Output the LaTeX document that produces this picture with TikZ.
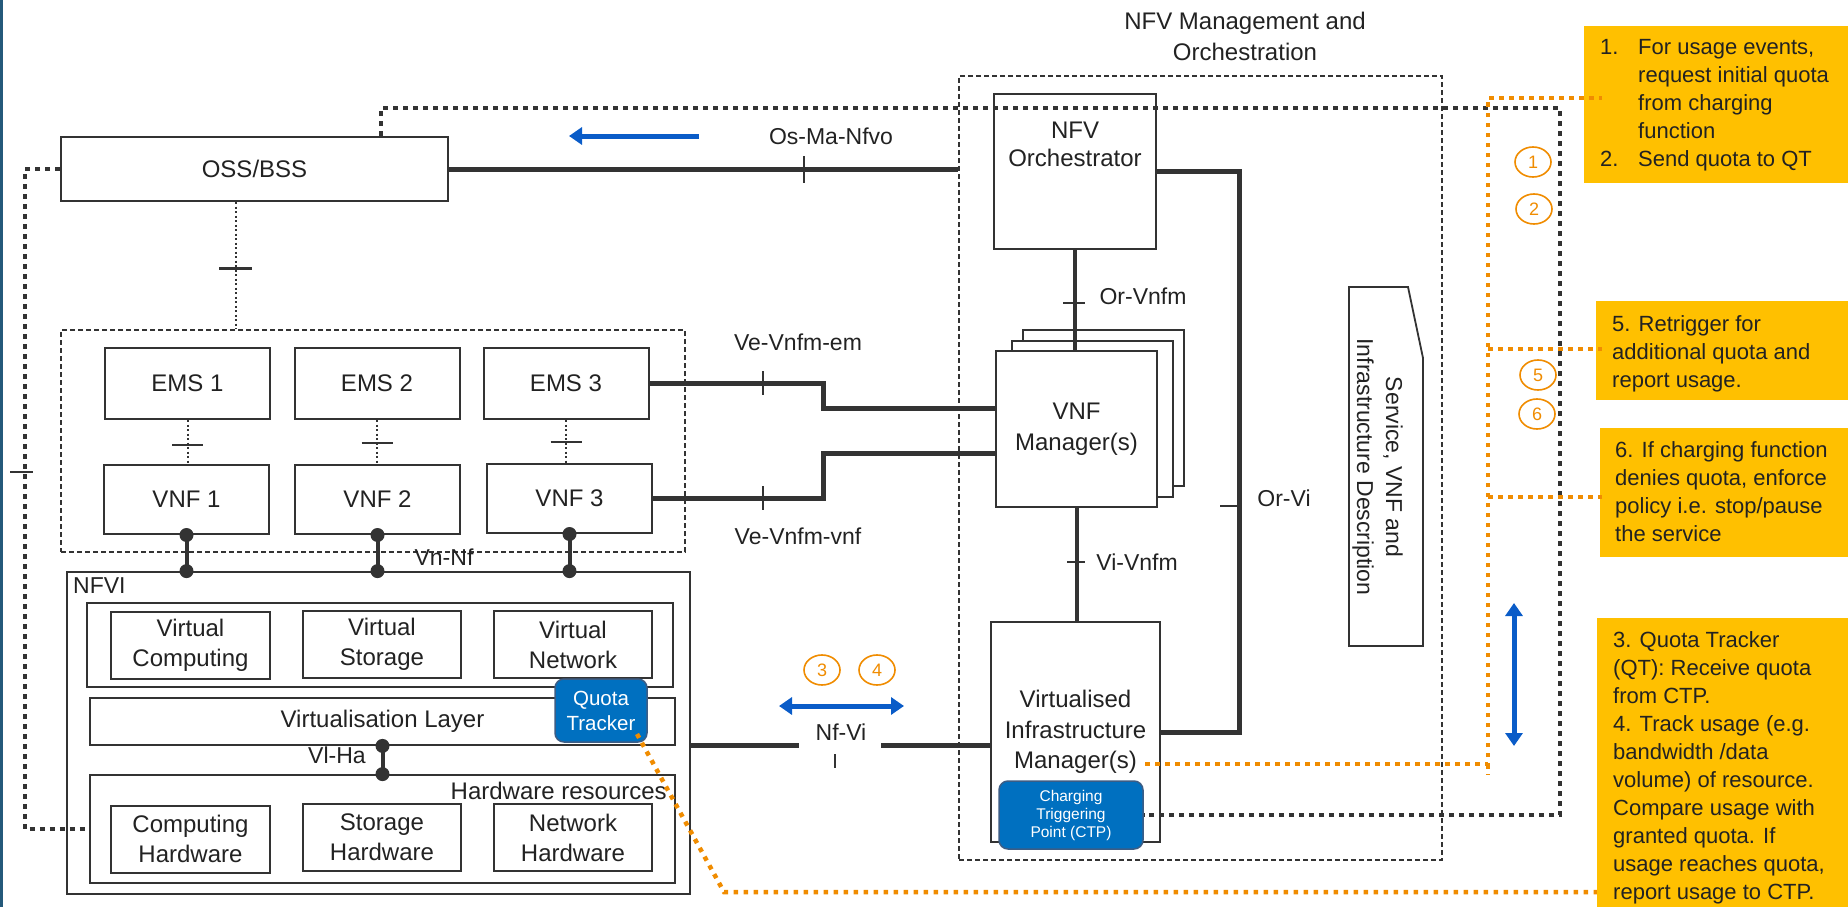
\documentclass[tikz,border=0pt]{standalone}
\usepackage{fontspec}
\setmainfont{Liberation Sans}
\usetikzlibrary{arrows.meta,shapes.geometric}

\definecolor{ink}{HTML}{333333}
\definecolor{txt}{HTML}{222222}
\definecolor{noteyellow}{HTML}{FFC000}
\definecolor{flow}{HTML}{F08C00}
\definecolor{unitblue}{HTML}{0070C0}
\definecolor{unitedge}{HTML}{3B5D86}
\definecolor{dirblue}{HTML}{0A5CC8}
\definecolor{sidebar}{HTML}{24597A}

\newcommand{\setfs}[2]{\fontsize{#1}{#2}\selectfont}

\begin{document}
\begin{tikzpicture}[x=1pt,y=-1pt,
  every node/.style={text=txt, inner sep=0pt},
  box/.style={draw=ink, line width=2pt, fill=white, align=center, font=\setfs{24}{30}},
  panel/.style={draw=ink, line width=1.8pt, fill=white},
  grpbox/.style={draw=ink, line width=1.3pt, dash pattern=on 5pt off 3pt},
  unit/.style={draw=unitedge, line width=1.5pt, fill=unitblue, rounded corners=9pt, text=white, align=center},
  lbl/.style={font=\setfs{23}{28}},
  heavy/.style={draw=ink, line width=5pt},
  link/.style={draw=ink, line width=4pt},
  tickmark/.style={draw=ink, line width=1.6pt},
  bartick/.style={draw=ink, line width=2.6pt},
  finedot/.style={draw=ink, line width=2pt, dash pattern=on 2pt off 2.5pt},
  blackdot/.style={draw=ink, line width=4.6pt, dash pattern=on 4.6pt off 5.4pt},
  flowdot/.style={draw=flow, line width=4.5pt, dash pattern=on 4.5pt off 5.5pt},
  dirarrow/.style={draw=dirblue, line width=5pt, -{Triangle[length=13pt,width=17pt]}},
  dirboth/.style={draw=dirblue, line width=5pt, {Triangle[length=13pt,width=17pt]}-{Triangle[length=13pt,width=17pt]}},
  stepno/.style={ellipse, draw=flow, line width=1.6pt, fill=white, minimum width=36pt, minimum height=30pt, text=flow, font=\setfs{18}{20}},
  note/.style={fill=noteyellow},
  notetext/.style={anchor=north west, font=\setfs{22}{28}, text=txt},
]
\useasboundingbox (0,0) rectangle (1848,907);
\fill[sidebar] (0,0) rectangle (2.5,907);

% ---------- group frames ----------
\node[grpbox, minimum width=483, minimum height=784] (mano) at (1200.5,468) {};
\node[align=center, font=\setfs{24}{31}] (manotitle) at (1245,36.5) {NFV Management and\\Orchestration};
\node[grpbox, minimum width=624, minimum height=222] (vnfgrp) at (373,441) {};

% ---------- OSS/BSS ----------
\node[box, minimum width=387, minimum height=64] (oss) at (254.5,169) {OSS/BSS};

% ---------- EMS and VNF ----------
\node[box, minimum width=165, minimum height=71] (ems1) at (187.5,383.5) {EMS 1};
\node[box, minimum width=165, minimum height=71] (ems2) at (377,383.5) {EMS 2};
\node[box, minimum width=165, minimum height=71] (ems3) at (566,383.5) {EMS 3};
\node[box, minimum width=165, minimum height=69] (vnf1) at (186.5,499.5) {VNF 1};
\node[box, minimum width=165, minimum height=69] (vnf2) at (377.5,499.5) {VNF 2};
\node[box, minimum width=165, minimum height=69] (vnf3) at (569.5,498.5) {VNF 3};

% ---------- NFVI ----------
\node[panel, minimum width=623, minimum height=322] (nfvi) at (378.5,733) {};
\node[lbl, anchor=west] (nfvilbl) at (73,586) {NFVI};
\node[panel, minimum width=586, minimum height=84] (vgrp) at (380,645) {};
\node[box, minimum width=159, minimum height=67] (vcomp) at (190.5,645.5) {Virtual\\Computing};
\node[box, minimum width=158, minimum height=67] (vstor) at (382,644.5) {Virtual\\Storage};
\node[box, minimum width=158, minimum height=67] (vnet) at (573,644.5) {Virtual\\Network};
\node[panel, minimum width=585, minimum height=47, font=\setfs{24}{30}] (vlayer) at (382.5,721.5) {Virtualisation Layer};
\node[panel, minimum width=585, minimum height=108] (hwres) at (382.5,829) {};
\node[font=\setfs{24}{30}, anchor=east] (hwlbl) at (667,791) {Hardware resources};
\node[box, minimum width=159, minimum height=67] (hcomp) at (190.5,839) {Computing\\Hardware};
\node[box, minimum width=158, minimum height=67] (hstor) at (382,837.5) {Storage\\Hardware};
\node[box, minimum width=158, minimum height=67] (hnet) at (573,837.5) {Network\\Hardware};
\node[unit, minimum width=92, minimum height=63, font=\setfs{20.5}{25}] (qt) at (601,710.5) {Quota\\Tracker};

% ---------- MANO blocks ----------
\node[box, minimum width=162, minimum height=155] (orch) at (1075,171.5) {};
\node[align=center, font=\setfs{24}{28}] (orchtxt) at (1075,144) {NFV\\Orchestrator};
\node[box, minimum width=161, minimum height=156] (vnfmc) at (1103.5,408) {};
\node[box, minimum width=161, minimum height=156] (vnfmb) at (1092,418.5) {};
\node[box, minimum width=161, minimum height=156, font=\setfs{24}{31}] (vnfm) at (1076.5,429) {VNF\\Manager(s)};
\node[box, minimum width=169, minimum height=220, font=\setfs{24}{30.5}] (vim) at (1075.5,732) {Virtualised\\Infrastructure\\Manager(s)};
\node[unit, minimum width=144, minimum height=68, font=\setfs{15.5}{18}] (ctp) at (1071,815) {Charging\\Triggering\\Point (CTP)};

% service, VNF and infrastructure description (folded sheet)
\draw[panel] (1349,287) -- (1408,287) -- (1423,358) -- (1423,646) -- (1349,646) -- cycle;
\node[rotate=-90, align=center, font=\setfs{23}{29}] (svcdesc) at (1377.5,467) {Service, VNF and\\Infrastructure Description};

% ---------- reference points ----------
\coordinate (orvi) at (1239,506);
\coordinate (jogem) at (823,408);
\coordinate (jogvnf) at (823,453);
\coordinate (nfa) at (799,745);
\coordinate (nfb) at (881,745);
\coordinate (ossdn) at (236,268);
\coordinate (leftrun) at (25,472);
\coordinate (topl) at (381,108);
\coordinate (topr) at (1560,108);
\coordinate (qtout) at (637,734);
\coordinate (qtbend) at (724,892);
\coordinate (vimout) at (1145,764);
\coordinate (bus) at (1488,764);
\coordinate (busy1) at (1488,98);
\coordinate (busy5) at (1488,349);
\coordinate (busy6) at (1488,497);
\coordinate (ma) at (699,136);
\coordinate (mb) at (569,136);
\coordinate (nva) at (779,706);
\coordinate (nvb) at (904,706);
\coordinate (upa) at (1514,746);
\coordinate (upb) at (1514,603);

% ---------- reference-point connectors ----------
\draw[heavy] (oss.east) -- (oss.east -| mano.west);
\draw[tickmark] (804,156) -- (804,183);
\node[lbl] (osmanfvo) at (831,136) {Os-Ma-Nfvo};
\draw[dirarrow] (ma) -- (mb);

\draw[heavy] (orch.east) -| (orvi) |- (vim.east);
\draw[tickmark, line width=2pt] (orvi) -- ++(-19,0);
\node[lbl] (orvilbl) at (1284,498) {Or-Vi};

\draw[link] (orch.south) -- (orch.south |- vnfm.north);
\draw[tickmark, line width=2pt] (1063,303) -- (1085,303);
\node[lbl] (orvnfm) at (1143,296) {Or-Vnfm};

\draw[link] (vnfm.south) -- (vnfm.south |- vim.north);
\draw[tickmark, line width=2pt] (1067,562) -- (1085,562);
\node[lbl] (vivnfm) at (1137,562) {Vi-Vnfm};

\draw[heavy] (ems3.east) -| (jogem) -- (jogem -| vnfm.west);
\draw[tickmark] (763,371) -- (763,395);
\node[lbl] (vevnfmem) at (798,342) {Ve-Vnfm-em};
\draw[heavy] (vnf3.east) -| (jogvnf) -- (jogvnf -| vnfm.west);
\draw[tickmark] (763,486) -- (763,510);
\node[lbl] (vevnfmvnf) at (798,536) {Ve-Vnfm-vnf};

\draw[heavy] (nfa -| nfvi.east) -- (nfa);
\draw[heavy] (nfb) -- (nfb -| vim.west);
\node[lbl] (nfvilbl2) at (841,732) {Nf-Vi};
\draw[tickmark] (835,754) -- (835,768);
\draw[dirboth] (nva) -- (nvb);
\node[stepno] (s3) at (822,670) {3};
\node[stepno] (s4) at (877,670) {4};

% EMS to VNF
\foreach \i/\y in {1/445,2/443,3/442} {
  \draw[finedot] (ems\i.south) -- (ems\i.south |- vnf\i.north);
  \draw[bartick] ([xshift=-15.5pt]ems\i.south |- 0,\y) -- ([xshift=15.5pt]ems\i.south |- 0,\y);
}
% VNF to NFVI (Vn-Nf)
\foreach \i in {1,2,3} {
  \draw[link] (vnf\i.south) -- (vnf\i.south |- nfvi.north);
  \fill[ink] (vnf\i.south) circle (7pt) (vnf\i.south |- nfvi.north) circle (7pt);
}
\node[lbl] (vnnf) at (444,557) {Vn-Nf};

% Virtualisation layer to hardware (Vl-Ha)
\draw[link] (vlayer.south) -- (vlayer.south |- hwres.north);
\fill[ink] (vlayer.south) circle (7pt) (vlayer.south |- hwres.north) circle (7pt);
\node[lbl] (vlha) at (337,755) {Vl-Ha};

% OSS/BSS to EMS/VNF group
\draw[finedot] (ossdn |- oss.south) -- (ossdn |- vnfgrp.north);
\draw[bartick, line width=3pt] (219,268) -- (252,268);

% OSS/BSS to NFVI
\draw[blackdot] (oss.west) -| (leftrun) |- (hwres.west);
\draw[tickmark] (10,472) -- (33,472);

% OSS/BSS to CTP
\draw[blackdot] (topl |- oss.north) -- (topl) -- (topr) |- (ctp.east);

% ---------- notes ----------
\node[note, minimum width=264, minimum height=157] (note1) at (1716,104.5) {};
\node[note, minimum width=252, minimum height=99] (note5) at (1722,350.5) {};
\node[note, minimum width=248, minimum height=129] (note6) at (1724,492.5) {};
\node[note, minimum width=251, minimum height=289] (note3) at (1722.5,762.5) {};

\node[notetext] (note1txt) at (1600,34.4) {\begin{tabular}{@{}p{38pt}@{}l@{}}
1. & For usage events,\\
 & request initial quota\\
 & from charging\\
 & function\\
2. & Send quota to QT
\end{tabular}};
\node[notetext] (note5txt) at (1612,312) {\begin{tabular}{@{}l@{}}
5. Retrigger for\\
additional quota and\\
report usage.
\end{tabular}};
\node[notetext] (note6txt) at (1615,438) {\begin{tabular}{@{}l@{}}
6. If charging function\\
denies quota, enforce\\
policy i.e. stop/pause\\
the service
\end{tabular}};
\node[notetext] (note3txt) at (1613,628) {\begin{tabular}{@{}l@{}}
3. Quota Tracker\\
(QT): Receive quota\\
from CTP.\\
4. Track usage (e.g.\\
bandwidth /data\\
volume) of resource.\\
Compare usage with\\
granted quota. If\\
usage reaches quota,\\
report usage to CTP.
\end{tabular}};

% ---------- charging flow ----------
\draw[flowdot] (qtout) -- (qtbend) -- (qtbend -| note3.west);
\draw[flowdot] (bus) -- ++(0,11);
\draw[flowdot] (vimout) -- (bus) -- (busy1) -- ++(114,0);
\draw[flowdot] (busy5) -- ++(114,0);
\draw[flowdot] (busy6) -- ++(114,0);

\node[stepno] (s1) at (1533,162) {1};
\node[stepno] (s2) at (1534,209) {2};
\node[stepno] (s5) at (1538,375) {5};
\node[stepno] (s6) at (1537,414) {6};
\draw[dirboth] (upa) -- (upb);
\end{tikzpicture}
\end{document}
